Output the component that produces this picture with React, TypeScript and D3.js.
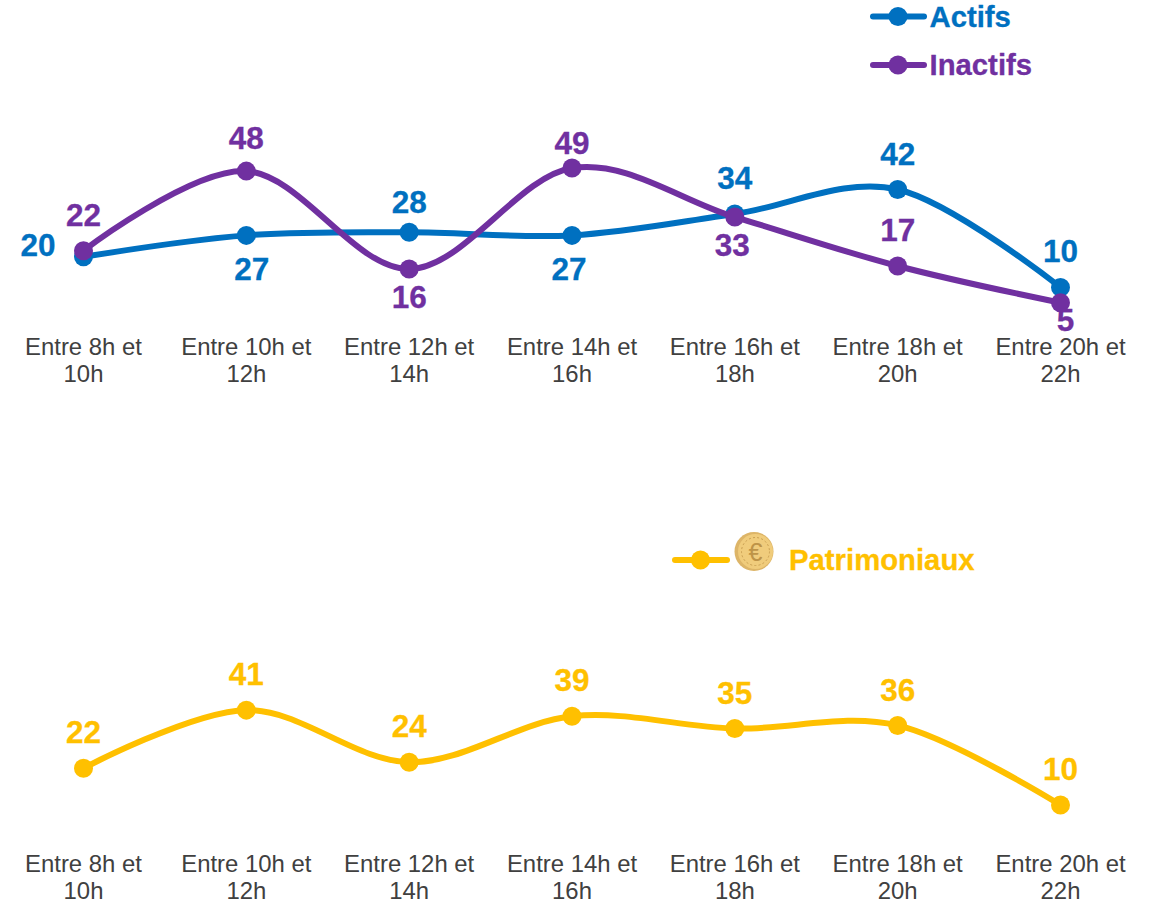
import React from "react";
import * as d3 from "d3";

const categories = [
  ["Entre 8h et", "10h"],
  ["Entre 10h et", "12h"],
  ["Entre 12h et", "14h"],
  ["Entre 14h et", "16h"],
  ["Entre 16h et", "18h"],
  ["Entre 18h et", "20h"],
  ["Entre 20h et", "22h"],
];
const actifs = [20, 27, 28, 27, 34, 42, 10];
const inactifs = [22, 48, 16, 49, 33, 17, 5];
const patrimoniaux = [22, 41, 24, 39, 35, 36, 10];

const actifsOffsets = [[-45.5, -12.5], [5.5, 33], [0, -30.5], [-3, 33], [0, -36.5], [0, -35.5], [0, -36.5]];
const inactifsOffsets = [[0, -36.5], [0, -33.5], [0, 27.5], [0, -25.5], [-2.5, 27.5], [0, -36.5], [5, 17]];
const patrimoniauxOffsets = [[0, -36.8], [0, -36], [0, -36.8], [0, -36.8], [0, -36], [0, -36], [0, -36]];

const BLUE = "#0070C0";
const PURPLE = "#7030A0";
const GOLD = "#FFC000";
const FONT = "'Liberation Sans', Arial, sans-serif";

const x = d3.scalePoint<number>().domain(d3.range(7)).range([83.5, 1060.5]);
const yTop = d3.scaleLinear().domain([0, 50]).range([318, 165]);
const yBottom = d3.scaleLinear().domain([0, 50]).range([835.6, 682.6]);

function Series({ values, color, y }: { values: number[]; color: string; y: d3.ScaleLinear<number, number> }) {
  const line = d3
    .line<number>()
    .x((_, i) => x(i) as number)
    .y((d) => y(d))
    .curve(d3.curveCardinal.tension(0));
  return (
    <g>
      <path d={line(values) ?? ""} fill="none" stroke={color} strokeWidth={6} strokeLinecap="round" />
      {values.map((v, i) => (
        <circle key={i} cx={x(i)} cy={y(v)} r={9.5} fill={color} />
      ))}
    </g>
  );
}

function Labels({ values, offsets, color, y }: { values: number[]; offsets: number[][]; color: string; y: d3.ScaleLinear<number, number> }) {
  return (
    <g>
      {values.map((v, i) => (
        <text
          key={i}
          x={(x(i) as number) + offsets[i][0]}
          y={y(v) + offsets[i][1]}
          dy="0.36em"
          textAnchor="middle"
          fontFamily={FONT}
          fontWeight={700}
          fontSize={31.5}
          fill={color}
          stroke={color}
          strokeWidth={0.3}
        >
          {v}
        </text>
      ))}
    </g>
  );
}

function Axis({ top }: { top: number }) {
  return (
    <g>
      {categories.map((c, i) => (
        <text key={i} textAnchor="middle" fontFamily={FONT} fontSize={23.9} fill="#404040">
          <tspan x={x(i)} y={top}>{c[0]}</tspan>
          <tspan x={x(i)} y={top + 27}>{c[1]}</tspan>
        </text>
      ))}
    </g>
  );
}

function LegendItem({ x0, x1, y, textY, color, label, labelX }: { x0: number; x1: number; y: number; textY: number; color: string; label: string; labelX: number }) {
  return (
    <g>
      <line x1={x0} x2={x1} y1={y} y2={y} stroke={color} strokeWidth={6} strokeLinecap="round" />
      <circle cx={(x0 + x1) / 2 - 0.5} cy={y} r={9.5} fill={color} />
      <text x={labelX} y={textY} dy="0.36em" fontFamily={FONT} fontWeight={700} fontSize={29.3} fill={color} stroke={color} strokeWidth={0.3}>
        {label}
      </text>
    </g>
  );
}

function Coin({ cx, cy }: { cx: number; cy: number }) {
  return (
    <g>
      <circle cx={cx} cy={cy} r={19.5} fill="#DDB568" />
      <circle cx={cx + 1.5} cy={cy} r={17.5} fill="#F0CC7C" />
      <circle cx={cx + 1.5} cy={cy} r={14} fill="none" stroke="#C99F52" strokeWidth={1} strokeDasharray="2 2.2" />
      <text x={cx + 1.5} y={cy} dy="0.36em" textAnchor="middle" fontFamily={FONT} fontSize={25} fill="#BE9448">€</text>
    </g>
  );
}

export default function App() {
  return (
    <svg width={1158} height={906} style={{ position: "absolute", left: 0, top: 0, display: "block", background: "#fff" }}>
      <LegendItem x0={873} x1={924} y={16.5} textY={16.5} color={BLUE} label="Actifs" labelX={929.5} />
      <LegendItem x0={873} x1={924} y={65} textY={64.2} color={PURPLE} label="Inactifs" labelX={929.5} />
      <Series values={actifs} color={BLUE} y={yTop} />
      <Series values={inactifs} color={PURPLE} y={yTop} />
      <Labels values={actifs} offsets={actifsOffsets} color={BLUE} y={yTop} />
      <Labels values={inactifs} offsets={inactifsOffsets} color={PURPLE} y={yTop} />
      <Axis top={355} />

      <LegendItem x0={675} x1={727} y={560} textY={559} color={GOLD} label="Patrimoniaux" labelX={789} />
      <Coin cx={754} cy={551.5} />
      <Series values={patrimoniaux} color={GOLD} y={yBottom} />
      <Labels values={patrimoniaux} offsets={patrimoniauxOffsets} color={GOLD} y={yBottom} />
      <Axis top={872} />
    </svg>
  );
}
